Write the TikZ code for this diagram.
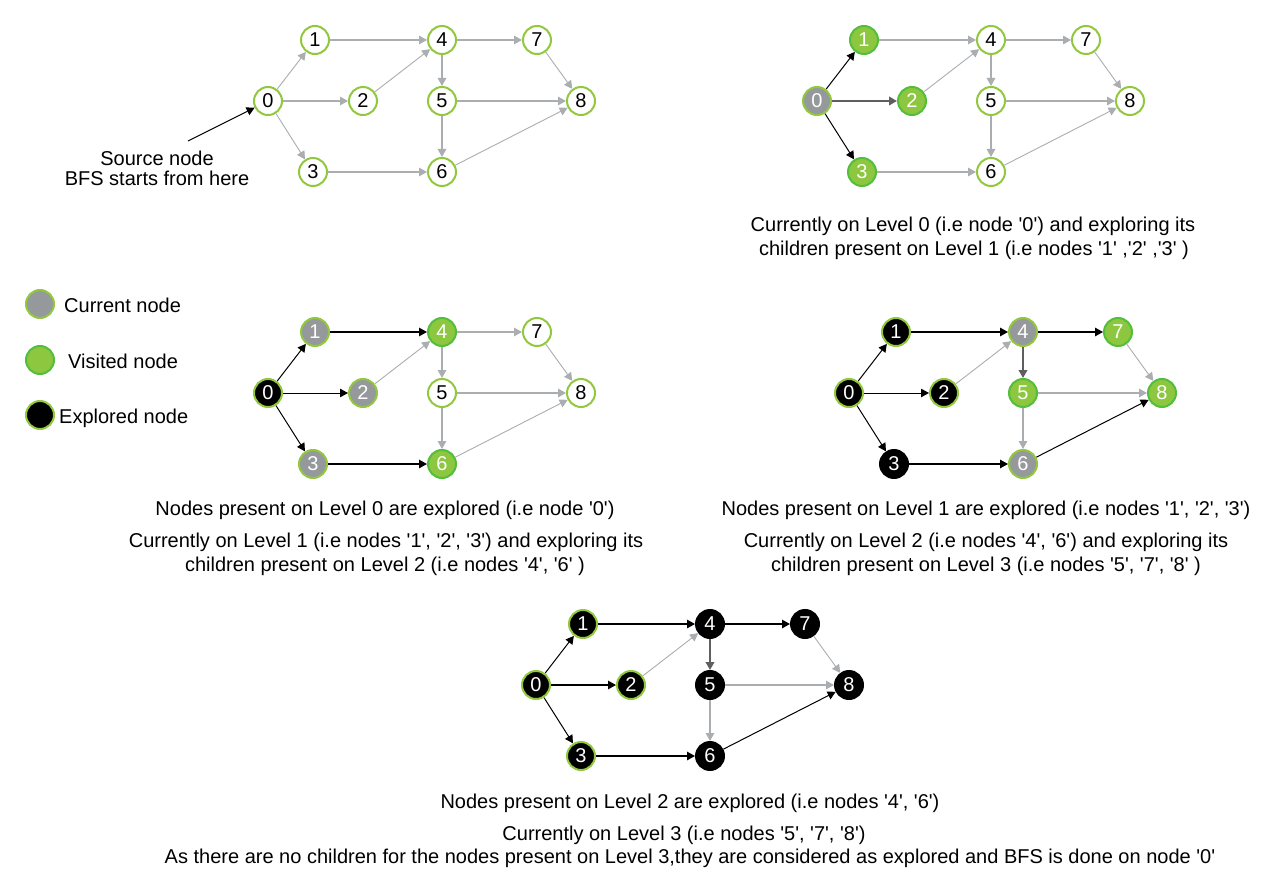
\documentclass[tikz,border=0pt]{standalone}
\usepackage{fontspec}
\newfontfamily\lsans{Liberation Sans}
\usetikzlibrary{arrows.meta}
\definecolor{ygreen}{RGB}{146,200,62}
\definecolor{vfill}{RGB}{141,198,63}
\definecolor{vborder}{RGB}{82,190,60}
\definecolor{cgray}{RGB}{149,153,156}
\definecolor{egray}{RGB}{170,174,177}
\definecolor{dgray}{RGB}{95,95,95}
\tikzset{
  gnode/.style={circle,minimum size=28pt,inner sep=0pt,line width=2pt,font=\lsans\fontsize{20}{24}\selectfont},
  wht/.style={gnode,draw=ygreen,fill=white,text=black},
  cur/.style={gnode,draw=ygreen,fill=cgray,text=white},
  vis/.style={gnode,draw=vborder,fill=vfill,text=white},
  exg/.style={gnode,draw=ygreen,fill=black,text=white},
  exb/.style={gnode,draw=black,fill=black,text=white},
  arr/.style={-{Triangle[length=8pt,width=8.5pt]}},
  gedge/.style={arr,draw=egray,line width=1.4pt},
  gdiag/.style={arr,draw=egray,line width=0.9pt},
  bedge/.style={arr,draw=black,line width=1pt},
  bthick/.style={arr,draw=black,line width=1.4pt},
  dedge/.style={arr,draw=dgray,line width=2pt},
  s0/.style=wht, s1/.style=wht, s2/.style=wht, s3/.style=wht, s4/.style=wht,
  s5/.style=wht, s6/.style=wht, s7/.style=wht, s8/.style=wht,
  e01/.style=gdiag, e02/.style=gedge, e03/.style=gdiag, e14/.style=gedge,
  e24/.style=gdiag, e36/.style=gedge, e45/.style=gedge, e47/.style=gedge,
  e56/.style=gedge, e58/.style=gedge, e68/.style=gdiag, e78/.style=gdiag,
  txt/.style={font=\lsans\fontsize{20}{24}\selectfont,anchor=base,inner sep=0pt},
  ltxt/.style={txt,anchor=base west},
}
\newcommand\bfsgraph[1]{%
  \node[s0] (#1-0) at (268,101) {0};
  \node[s1] (#1-1) at (315,40) {1};
  \node[s2] (#1-2) at (363,101) {2};
  \node[s3] (#1-3) at (313,172) {3};
  \node[s4] (#1-4) at (442,40) {4};
  \node[s5] (#1-5) at (442,101) {5};
  \node[s6] (#1-6) at (442,172) {6};
  \node[s7] (#1-7) at (537,40) {7};
  \node[s8] (#1-8) at (581,101) {8};
  \draw[e01] (#1-0) -- (#1-1);
  \draw[e02] (#1-0) -- (#1-2);
  \draw[e03] (#1-0) -- (#1-3);
  \draw[e14] (#1-1) -- (#1-4);
  \draw[e24] (#1-2) -- (#1-4);
  \draw[e36] (#1-3) -- (#1-6);
  \draw[e45] (#1-4) -- (#1-5);
  \draw[e47] (#1-4) -- (#1-7);
  \draw[e56] (#1-5) -- (#1-6);
  \draw[e58] (#1-5) -- (#1-8);
  \draw[e68] (#1-6) -- (#1-8);
  \draw[e78] (#1-7) -- (#1-8);
}
\begin{document}
\begin{tikzpicture}[x=1pt,y=-1pt]
\useasboundingbox (0,0) rectangle (1280,896);
\fill[white] (0,0) rectangle (1280,896);

% graph 1
\bfsgraph{a}
\coordinate (src) at (188,141);
\draw[bedge] (src) -- (a-0);
\node[txt] (t1a) at (157,166) {Source node};
\node[txt] (t1b) at (157,186) {BFS starts from here};

% graph 2
\begin{scope}[shift={(549,0)},
  s0/.style=cur, s1/.style=vis, s2/.style=vis, s3/.style=vis,
  e01/.style=bedge, e03/.style=bedge, e02/.style=dedge]
\bfsgraph{b}
\end{scope}
\node[txt] (t2a) at (973,231.5) {Currently on Level 0 (i.e node '0') and exploring its};
\node[txt] (t2b) at (974,255) {children present on Level 1 (i.e nodes '1' ,'2' ,'3' )};

% legend
\node[cur] (lg1) at (40,304) {};
\node[vis] (lg2) at (40,360) {};
\node[exg] (lg3) at (40,415) {};
\node[ltxt] (lt1) at (64,312) {Current node};
\node[ltxt] (lt2) at (68,368) {Visited node};
\node[ltxt] (lt3) at (59,423) {Explored node};

% graph 3
\begin{scope}[shift={(0,292)},
  s0/.style=exg, s1/.style=cur, s2/.style=cur, s3/.style=cur,
  s4/.style=vis, s6/.style=vis,
  e01/.style=bedge, e02/.style=bedge, e03/.style=bedge,
  e14/.style=bthick, e36/.style=bthick]
\bfsgraph{c}
\end{scope}
\node[txt] (t3a) at (385,515) {Nodes present on Level 0 are explored (i.e node '0')};
\node[txt] (t3b) at (386,547) {Currently on Level 1 (i.e nodes '1', '2', '3') and exploring its};
\node[txt] (t3c) at (385,571) {children present on Level 2 (i.e nodes '4', '6' )};

% graph 4
\begin{scope}[shift={(581,292)},
  s0/.style=exg, s1/.style=exg, s2/.style=exg, s3/.style=exb,
  s4/.style=cur, s6/.style=cur, s5/.style=vis, s7/.style=vis, s8/.style=vis,
  e01/.style=bedge, e02/.style=bedge, e03/.style=bedge,
  e14/.style=bthick, e36/.style=bthick, e47/.style=bthick, e68/.style=bedge,
  e45/.style=dedge]
\bfsgraph{d}
\end{scope}
\node[txt] (t4a) at (986,515) {Nodes present on Level 1 are explored (i.e nodes '1', '2', '3')};
\node[txt] (t4b) at (986,547) {Currently on Level 2 (i.e nodes '4', '6') and exploring its};
\node[txt] (t4c) at (986,571) {children present on Level 3 (i.e nodes '5', '7', '8' )};

% graph 5
\begin{scope}[shift={(268,584)},
  s0/.style=exg, s1/.style=exg, s2/.style=exg, s3/.style=exg,
  s4/.style=exb, s5/.style=exb, s6/.style=exb, s7/.style=exb, s8/.style=exb,
  e01/.style=bedge, e02/.style=bthick, e03/.style=bedge,
  e14/.style=bthick, e36/.style=bthick, e47/.style=bthick, e68/.style=bedge,
  e45/.style=dedge]
\bfsgraph{e}
\end{scope}
\node[txt] (t5a) at (690,808) {Nodes present on Level 2 are explored (i.e nodes '4', '6')};
\node[txt] (t5b) at (684,840) {Currently on Level 3 (i.e nodes '5', '7', '8')};
\node[txt] (t5c) at (690,863) {As there are no children for the nodes present on Level 3,they are considered as explored and BFS is done on node '0'};
\end{tikzpicture}
\end{document}
